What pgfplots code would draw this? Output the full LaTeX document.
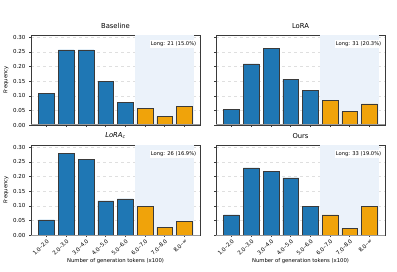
\documentclass[border=0pt]{standalone}
\usepackage{pgfplots}
\pgfplotsset{compat=1.18}
\usepackage{fontspec}
\setmainfont{DejaVu Sans}
\definecolor{tabblue}{HTML}{1F77B4}
\definecolor{taborange}{HTML}{F0A30A}
\definecolor{shadecol}{HTML}{EBF2FA}
\definecolor{edge}{HTML}{3A3A3A}
\pgfplotsset{
  hist/.style={
    scale only axis, width=169pt, height=90pt,
    xmin=-0.79, xmax=7.79, ymin=0, ymax=0.308,
    ytick={0,0.05,0.10,0.15,0.20,0.25,0.30},
    yticklabel style={/pgf/number format/.cd,fixed,fixed zerofill,precision=2},
    /pgf/number format/assume math mode=true,
    xtick={0,...,7},
    axis line style={draw=edge, line width=0.6pt},
    tick style={draw=edge, line width=0.5pt},
    major tick length=2pt,
    tick align=outside, xtick pos=bottom, ytick pos=left,
    ymajorgrids, grid style={dashed, draw=gray!25, line width=0.4pt},
    ticklabel style={font=\fontsize{5.5}{6}\selectfont},
    title style={font=\fontsize{6.8}{7}\selectfont, yshift=-3pt},
    clip=false,
  },
  longbar/.style={ybar, bar width=0.8, bar shift=0pt, fill=taborange, draw=edge, line width=0.5pt},
  shortbar/.style={ybar, bar width=0.8, bar shift=0pt, fill=tabblue, draw=edge, line width=0.5pt},
}
\newcommand{\shadebox}{\fill[shadecol] (axis cs:4.5,0) rectangle (axis cs:7.5,0.308);}
\newcommand{\zeroline}{\draw[gray!80, line width=1pt] (axis cs:-0.79,0) -- (axis cs:7.79,0);}
\newcommand{\annot}[1]{\node[anchor=east, fill=white, inner sep=1pt, font=\fontsize{5.2}{6}\selectfont] at (rel axis cs:0.985,0.9) {#1};}
\begin{document}
\begin{tikzpicture}
\path[use as bounding box] (0pt,0pt) rectangle (397pt,271pt);
% Baseline
\begin{axis}[hist, at={(31pt,146pt)}, anchor=south west, title={Baseline},
  xticklabels={}, ylabel={Frequency}, ylabel style={font=\fontsize{5.3}{6}\selectfont, yshift=-2pt}]
\shadebox
\addplot[shortbar] coordinates {(0,0.1071) (1,0.2571) (2,0.2571) (3,0.1500) (4,0.0786)};
\addplot[longbar] coordinates {(5,0.0571) (6,0.0286) (7,0.0643)};
\zeroline
\annot{Long: 21 (15.0\%)}
\end{axis}
% LoRA
\begin{axis}[hist, at={(216pt,146pt)}, anchor=south west, title={LoRA},
  xticklabels={}, yticklabels={}]
\shadebox
\addplot[shortbar] coordinates {(0,0.0523) (1,0.2092) (2,0.2614) (3,0.1569) (4,0.1176)};
\addplot[longbar] coordinates {(5,0.0850) (6,0.0458) (7,0.0719)};
\zeroline
\annot{Long: 31 (20.3\%)}
\end{axis}
% LoRA_c
\begin{axis}[hist, at={(31pt,36pt)}, anchor=south west, title={\textit{LoRA}\textsubscript{\textit{c}}},
  xticklabels={1.0--2.0,2.0--3.0,3.0--4.0,4.0--5.0,5.0--6.0,6.0--7.0,7.0--8.0,8.0--∞},
  xticklabel style={rotate=45, anchor=north east, inner sep=1pt},
  xlabel={Number of generation tokens (x100)}, xlabel style={font=\fontsize{5.3}{6}\selectfont, yshift=2pt},
  ylabel={Frequency}, ylabel style={font=\fontsize{5.3}{6}\selectfont, yshift=-2pt}]
\shadebox
\addplot[shortbar] coordinates {(0,0.0519) (1,0.2792) (2,0.2597) (3,0.1169) (4,0.1234)};
\addplot[longbar] coordinates {(5,0.0974) (6,0.0260) (7,0.0455)};
\zeroline
\annot{Long: 26 (16.9\%)}
\end{axis}
% Ours
\begin{axis}[hist, at={(216pt,36pt)}, anchor=south west, title={Ours}, yticklabels={},
  xticklabels={1.0--2.0,2.0--3.0,3.0--4.0,4.0--5.0,5.0--6.0,6.0--7.0,7.0--8.0,8.0--∞},
  xticklabel style={rotate=45, anchor=north east, inner sep=1pt},
  xlabel={Number of generation tokens (x100)}, xlabel style={font=\fontsize{5.3}{6}\selectfont, yshift=2pt}]
\shadebox
\addplot[shortbar] coordinates {(0,0.0690) (1,0.2299) (2,0.2184) (3,0.1954) (4,0.0977)};
\addplot[longbar] coordinates {(5,0.0690) (6,0.0230) (7,0.0977)};
\zeroline
\annot{Long: 33 (19.0\%)}
\end{axis}
\end{tikzpicture}
\end{document}
